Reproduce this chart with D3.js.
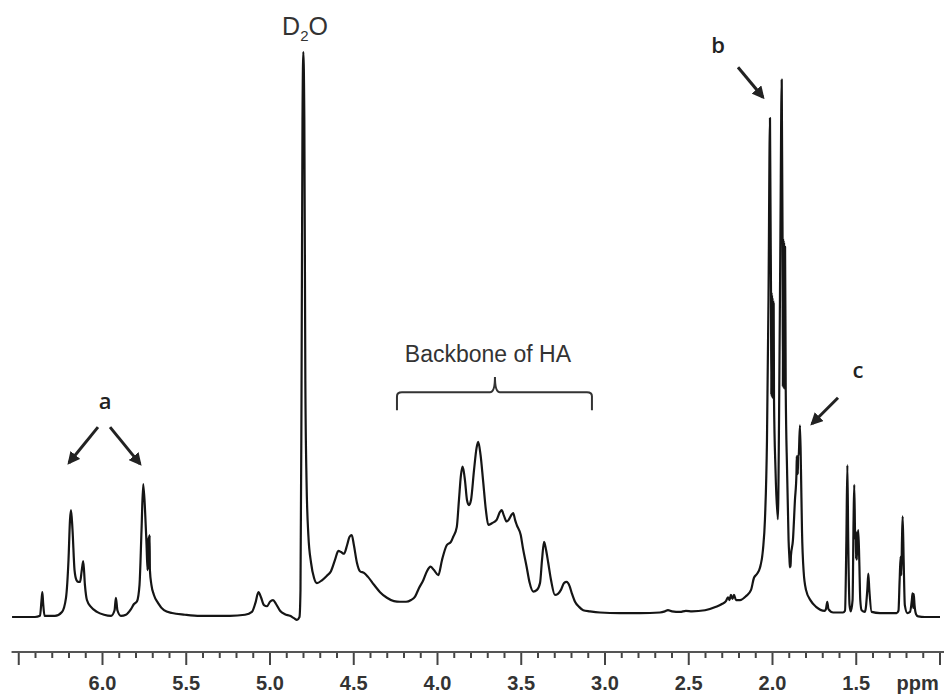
<!DOCTYPE html>
<html>
<head>
<meta charset="utf-8">
<script src="https://cdn.jsdelivr.net/npm/d3@7"></script>
<style>
  body { margin: 0; background: #fff; }
  svg { display: block; }
  .tick-label { font-family: 'Liberation Sans', Arial, sans-serif; font-weight: bold; font-size: 20px; fill: #333; }
  .peak-label { font-family: 'Open Sans', sans-serif; font-weight: 600; font-size: 22px; fill: #222; }
  .note { font-family: 'Liberation Sans', Arial, sans-serif; fill: #333; }
</style>
</head>
<body>
<svg width="944" height="695"></svg>
<script>
// 1H NMR spectrum: [ppm, intensity (D2O = 100)]
const vinylRegion = [
  [6.537,0],[6.400,0],[6.370,0.2],[6.361,3.0],[6.356,4.4],[6.351,2.3],[6.343,0.2],[6.281,0.2],
  [6.239,0.9],[6.215,3.4],[6.200,10.1],[6.191,17.2],[6.185,18.9],[6.176,15.4],[6.164,8.3],
  [6.152,6.5],[6.142,6.2],[6.131,6.2],[6.122,8.0],[6.112,9.9],[6.102,5.7],[6.090,3.0],
  [6.066,1.8],[6.030,0.9],[5.988,0.4],[5.946,0.2],[5.925,1.2],[5.917,3.4],[5.908,1.2],
  [5.887,0.2],[5.857,0.4],[5.827,1.4],[5.809,2.3],[5.791,2.8],[5.776,5.7],[5.764,15.4],
  [5.754,23.5],[5.743,18.9],[5.734,12.7],[5.728,8.3],[5.724,14.0],[5.722,8.6],[5.720,14.3],
  [5.718,8.5],[5.716,14.5],[5.714,8.3],
  [5.705,5.7],[5.690,3.9],[5.666,2.5],[5.630,1.2],[5.582,0.7],[5.505,0.4],[5.415,0.2]
];

const waterRegion = [
  [5.236,0.2],[5.146,0.4],[5.105,0.9],[5.084,2.5],[5.066,4.4],[5.051,3.5],[5.033,2.1],
  [5.015,1.9],[4.997,2.7],[4.979,3.0],[4.961,2.3],[4.937,1.1],[4.908,0.5],[4.878,0.2],
  [4.854,-0.2],[4.836,-0.5],[4.821,0],[4.815,4.8],[4.809,38.4],[4.803,88.0],[4.798,100],
  [4.792,88.0],[4.786,41.9],[4.779,24.2],[4.768,14.5],[4.752,9.6],[4.734,6.9],[4.717,6.0],
  [4.687,6.5],[4.657,7.3],[4.633,8.1],[4.609,10.1],[4.589,11.7],[4.573,11.5],[4.555,11.2],
  [4.537,12.7],[4.522,14.2],[4.509,14.5],[4.496,12.7],[4.478,9.6],[4.460,8.1],[4.436,7.8],
  [4.412,7.1],[4.376,5.7],[4.340,4.4],[4.299,3.4],[4.257,2.8],[4.221,2.7],[4.185,2.7],[4.155,3.0]
];

const backboneRegion = [
  [4.131,3.6],[4.108,5.1],[4.082,6.5],[4.060,8.1],[4.038,8.9],[4.018,8.3],[3.992,7.4],
  [3.970,10.1],[3.942,12.7],[3.917,13.3],[3.903,14.2],[3.882,15.9],[3.869,20.7],[3.857,25.1],
  [3.847,26.6],[3.833,24.2],[3.821,20.7],[3.809,19.8],[3.797,20.7],[3.779,26.0],[3.764,29.9],
  [3.754,31.0],[3.740,28.7],[3.725,24.2],[3.708,18.9],[3.694,16.3],[3.672,16.6],[3.644,17.2],
  [3.624,18.6],[3.614,18.9],[3.600,17.9],[3.584,16.9],[3.570,17.3],[3.555,18.1],[3.545,18.4],
  [3.534,17.2],[3.524,16.3],[3.500,14.5],[3.487,12.2],[3.465,8.9],[3.448,6.2],[3.425,4.5],
  [3.403,4.8],[3.385,6.0],[3.373,10.1],[3.361,13.3],[3.349,11.9],[3.336,9.6],[3.319,6.5],
  [3.296,3.9],[3.278,4.1],[3.260,4.8],[3.242,6.0],[3.226,6.2],[3.209,5.5],[3.194,4.1],
  [3.176,2.7],[3.152,1.8],[3.127,1.2],[3.087,1.0],[3.027,0.8]
];

const methylRegion = [
  [2.908,0.7],[2.788,0.7],[2.669,0.8],[2.639,1.0],[2.621,1.2],[2.597,1.0],[2.549,0.9],
  [2.514,1.1],[2.478,1.0],[2.400,1.2],[2.334,1.8],[2.299,2.3],[2.275,2.8],[2.263,3.5],
  [2.254,3.0],[2.245,3.9],[2.236,3.2],[2.227,3.9],[2.215,3.0],[2.191,3.0],[2.155,3.7],
  [2.125,4.8],[2.108,6.9],[2.090,7.6],[2.072,8.7],[2.054,11.9],[2.042,17.3],[2.030,31.3],
  [2.021,56.1],[2.012,88.3],[2.006,57.9],[2.004,39.3],[2.003,57.5],[2.001,39.0],[2.000,57.0],
  [1.998,38.8],[1.997,56.5],[1.995,38.8],[1.993,56.1],[1.991,38.7],[1.990,55.5],
  [1.988,38.6],[1.979,26.0],[1.965,17.3],[1.958,34.9],[1.950,66.7],[1.942,95.1],[1.937,67.3],
  [1.935,40.8],[1.934,67.0],[1.932,40.6],[1.931,66.7],[1.929,40.5],[1.928,66.3],[1.926,40.4],
  [1.925,65.8],[1.923,40.3],[1.922,65.5],[1.918,40.2],[1.910,26.0],[1.901,13.6],
  [1.896,10.4],[1.893,8.8],[1.891,10.6],[1.889,8.9],[1.887,10.8],[1.875,13.6],[1.863,20.7],
  [1.854,25.3],[1.852,28.5],[1.850,25.3],[1.848,28.5],[1.846,25.3],[1.844,28.5],
  [1.841,28.5],[1.833,33.9],[1.827,26.0],[1.821,15.4],[1.811,8.0],[1.797,4.8],
  [1.769,2.9],[1.737,1.8],[1.685,1.1],[1.678,1.4],[1.670,2.7],[1.663,1.4],[1.634,0.8],
  [1.576,0.8],[1.564,1.1],[1.556,13.6],[1.550,26.9],[1.545,13.6],[1.537,2.1],[1.530,1.0],
  [1.519,3.0],[1.513,17.2],[1.509,23.4],[1.503,13.6],[1.500,15.2],[1.498,10.3],[1.496,15.0],
  [1.494,10.1],[1.490,13.6],[1.485,15.4],
  [1.479,10.1],[1.473,3.0],[1.465,1.2],[1.445,0.9],[1.431,4.8],[1.425,7.7],[1.419,4.8],
  [1.405,0.9],[1.355,0.7],[1.256,0.7],[1.245,1.1],[1.238,6.5],[1.232,10.7],[1.228,7.4],
  [1.224,13.6],[1.220,17.8],[1.214,10.1],[1.207,2.1],[1.192,0.7],[1.176,0.9],[1.165,3.0],
  [1.161,4.2],[1.157,1.6],[1.154,4.1],[1.149,2.1],[1.140,0.5],[1.127,0.1],[1.087,0],[0.997,0]
];

const majorTicks = [6.5, 6.0, 5.5, 5.0, 4.5, 4.0, 3.5, 3.0, 2.5, 2.0, 1.5, 1.0];
const tickLabels = ['', '6.0', '5.5', '5.0', '4.5', '4.0', '3.5', '3.0', '2.5', '2.0', '1.5', ''];
const axisUnit = 'ppm';

// annotations in data units [ppm, intensity]
const peakLabels = [
  { text: 'a', at: [5.982, 38.1] },
  { text: 'b', at: [2.322, 101.1] },
  { text: 'c', at: [1.487, 43.7] }
];
const arrows = [
  { from: [6.024, 33.6], to: [6.197, 27.3] },
  { from: [5.952, 33.6], to: [5.773, 27.1] },
  { from: [2.203, 97.3], to: [2.054, 92.0] },
  { from: [1.606, 38.8], to: [1.761, 34.2] }
];
const waterLabel = { at: [4.788, 103.0] };
const backbone = { text: 'Backbone of HA', from: 4.239, to: 3.075, mid: 3.654, top: 42.5, level: 39.8, foot: 36.6, textAt: [3.696, 45.1] };

const svg = d3.select('svg');
const width = +svg.attr('width');
const height = +svg.attr('height');

const x = d3.scaleLinear().domain([6.0, 1.5]).range([102, 855.75]);
const y = d3.scaleLinear().domain([0, 100]).range([617, 52]);
const axisY = 652;

// arrow head
svg.append('defs').append('marker')
  .attr('id', 'head')
  .attr('viewBox', '0 0 10 10')
  .attr('refX', 8).attr('refY', 5)
  .attr('markerWidth', 4.2).attr('markerHeight', 4.2)
  .attr('orient', 'auto')
  .append('path')
    .attr('d', 'M0,0 L10,5 L0,10 Z')
    .attr('fill', '#222');

// spectrum
const spectrum = [].concat(vinylRegion, waterRegion, backboneRegion, methylRegion);
const line = d3.line()
  .x(d => x(d[0]))
  .y(d => y(d[1]))
  .curve(d3.curveMonotoneX);

svg.append('path')
  .datum(spectrum)
  .attr('d', line)
  .attr('fill', 'none')
  .attr('stroke', '#151515')
  .attr('stroke-width', 2.2)
  .attr('stroke-linejoin', 'round');

// ppm axis
const axisG = svg.append('g').attr('transform', `translate(0,${axisY})`);

const minorTicks = d3.range(10, 66).map(d => d / 10)
  .filter(d => !majorTicks.some(m => Math.abs(m - d) < 1e-6));

axisG.append('g')
  .call(d3.axisBottom(x).tickValues(minorTicks).tickSize(6).tickFormat(''))
  .call(g => g.select('.domain').remove())
  .call(g => g.selectAll('line').attr('stroke', '#444').attr('stroke-width', 2));

axisG.append('g')
  .call(d3.axisBottom(x).tickValues(majorTicks).tickSize(13).tickPadding(11)
    .tickFormat((d, i) => tickLabels[i]))
  .call(g => g.select('.domain').remove())
  .call(g => g.selectAll('line').attr('stroke', '#444').attr('stroke-width', 2))
  .call(g => g.selectAll('text').attr('class', 'tick-label').attr('fill', null));

axisG.append('line')
  .attr('x1', x(6.54)).attr('x2', width)
  .attr('stroke', '#555').attr('stroke-width', 2);

axisG.append('text')
  .attr('class', 'tick-label')
  .attr('x', x(1.13))
  .attr('y', 38)
  .attr('text-anchor', 'middle')
  .text(axisUnit);

// D2O
const water = svg.append('text')
  .attr('class', 'note')
  .attr('x', x(waterLabel.at[0]))
  .attr('y', y(waterLabel.at[1]))
  .attr('text-anchor', 'middle')
  .style('font-size', '25px');
water.append('tspan').text('D');
water.append('tspan').attr('dy', 6).style('font-size', '15px').text('2');
water.append('tspan').attr('dy', -6).text('O');

// backbone bracket
const bx0 = x(backbone.from), bx1 = x(backbone.to), bxm = x(backbone.mid);
const by = y(backbone.level), byFoot = y(backbone.foot), byTop = y(backbone.top);
svg.append('path')
  .attr('d', `M${bx0},${byFoot} L${bx0},${by + 4} Q${bx0},${by} ${bx0 + 5},${by}
    L${bxm - 5},${by} Q${bxm},${by} ${bxm},${byTop} Q${bxm},${by} ${bxm + 5},${by}
    L${bx1 - 5},${by} Q${bx1},${by} ${bx1},${by + 4} L${bx1},${byFoot}`)
  .attr('fill', 'none')
  .attr('stroke', '#333')
  .attr('stroke-width', 2);

svg.append('text')
  .attr('class', 'note')
  .attr('x', x(backbone.textAt[0]))
  .attr('y', y(backbone.textAt[1]))
  .attr('text-anchor', 'middle')
  .style('font-size', '23px')
  .text(backbone.text);

// peak labels and arrows
svg.selectAll('.peak-label').data(peakLabels)
  .enter().append('text')
    .attr('class', 'peak-label')
    .attr('x', d => x(d.at[0]))
    .attr('y', d => y(d.at[1]))
    .attr('dy', '0.35em')
    .attr('text-anchor', 'middle')
    .text(d => d.text);

svg.selectAll('.arrow').data(arrows)
  .enter().append('line')
    .attr('class', 'arrow')
    .attr('x1', d => x(d.from[0]))
    .attr('y1', d => y(d.from[1]))
    .attr('x2', d => x(d.to[0]))
    .attr('y2', d => y(d.to[1]))
    .attr('stroke', '#222')
    .attr('stroke-width', 3)
    .attr('marker-end', 'url(#head)');
</script>
</body>
</html>
